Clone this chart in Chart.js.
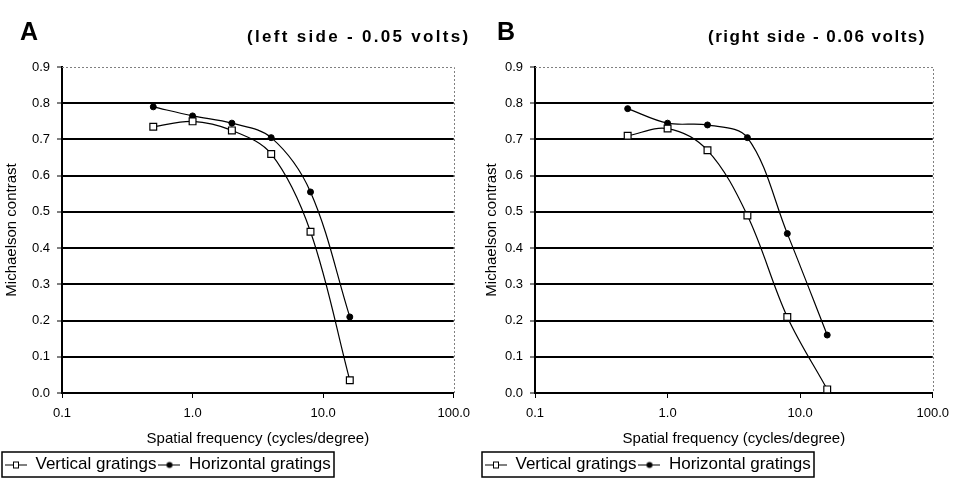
<!DOCTYPE html>
<html><head><meta charset="utf-8">
<script src="https://cdn.jsdelivr.net/npm/chart.js@4.4.0/dist/chart.umd.min.js"></script>
<style>
html,body{margin:0;padding:0;background:#fff;width:957px;height:480px;overflow:hidden;font-family:"Liberation Sans",Arial,sans-serif;color:#000;}
.panel{position:absolute;top:0;height:480px;}
.letter{position:absolute;font-weight:bold;font-size:25px;top:16px;line-height:30px;}
.sub{position:absolute;font-weight:bold;font-size:17px;top:25px;line-height:24px;white-space:nowrap;}
</style></head><body>
<div class="panel" style="left:0;width:478px"><canvas id="cA"></canvas></div>
<div class="panel" style="left:480px;width:477px"><canvas id="cB"></canvas></div>
<div class="letter" style="left:20px">A</div>
<div class="sub" style="left:247px;letter-spacing:2.3px">(left side - 0.05 volts)</div>
<div class="letter" style="left:497px">B</div>
<div class="sub" style="left:708px;letter-spacing:1.5px">(right side - 0.06 volts)</div>
<script>
// ---- data ----
const frequencies = [0.5, 1, 2, 4, 8, 16];
const seriesNames = ['Vertical gratings', 'Horizontal gratings'];
const leftVertical    = [0.735, 0.75, 0.725, 0.66, 0.445, 0.035];
const leftHorizontal  = [0.79, 0.765, 0.745, 0.705, 0.555, 0.21];
const rightVertical   = [0.71, 0.73, 0.67, 0.49, 0.21, 0.01];
const rightHorizontal = [0.785, 0.745, 0.74, 0.705, 0.44, 0.16];
const xTickValues = [0.1, 1, 10, 100];
const xTickLabels = ['0.1', '1.0', '10.0', '100.0'];
const yTickValues = [0, 0.1, 0.2, 0.3, 0.4, 0.5, 0.6, 0.7, 0.8, 0.9];
const yTickLabels = ['0.0', '0.1', '0.2', '0.3', '0.4', '0.5', '0.6', '0.7', '0.8', '0.9'];
const xAxisTitle = 'Spatial frequency (cycles/degree)';
const yAxisTitle = 'Michaelson contrast';

const FONT = '"Liberation Sans", Arial, sans-serif';

function makeIcon(kind) {
  const c = document.createElement('canvas');
  c.width = 22; c.height = 10;
  const g = c.getContext('2d');
  g.strokeStyle = '#000'; g.lineWidth = 1;
  g.beginPath(); g.moveTo(0, 5.5); g.lineTo(22, 5.5); g.stroke();
  if (kind === 'square') {
    g.fillStyle = '#fff'; g.fillRect(8.5, 2.5, 5, 6); g.strokeRect(8.5, 2.5, 5, 6);
  } else {
    g.fillStyle = '#000'; g.beginPath(); g.arc(11, 5.5, 3, 0, Math.PI * 2); g.fill();
  }
  return c;
}
const icons = [makeIcon('square'), makeIcon('circle')];

const framePlugin = {
  id: 'frame',
  afterLayout(chart) {
    const lg = chart.legend;
    if (!lg) return;
    lg.top += 3; lg.bottom += 3;
  },
  beforeDatasetsDraw(chart) {
    const {ctx, chartArea: a} = chart;
    ctx.save();
    ctx.strokeStyle = '#808080'; ctx.lineWidth = 1; ctx.setLineDash([2, 2]);
    ctx.beginPath();
    ctx.moveTo(a.left, Math.round(a.top) + 0.5);
    ctx.lineTo(Math.round(a.right) + 0.5, Math.round(a.top) + 0.5);
    ctx.lineTo(Math.round(a.right) + 0.5, a.bottom);
    ctx.stroke();
    ctx.restore();
  },
  afterDraw(chart) {
    const hb = chart.legend && chart.legend.legendHitBoxes;
    if (!hb || !hb.length) return;
    const l = Math.min(...hb.map(b => b.left));
    const r = Math.max(...hb.map(b => b.left + b.width));
    const t = Math.min(...hb.map(b => b.top));
    const bt = Math.max(...hb.map(b => b.top + b.height));
    const ctx = chart.ctx;
    ctx.save();
    ctx.strokeStyle = '#000'; ctx.lineWidth = 1.5;
    ctx.strokeRect(Math.round(l - 3), Math.round(t - 4), Math.round(r - l + 6), Math.round(bt - t + 8));
    ctx.restore();
  }
};

function buildChart(id, vertical, horizontal, yWidth, rightPad) {
  const mk = (vals) => frequencies.map((f, i) => ({x: f, y: vals[i]}));
  return new Chart(document.getElementById(id), {
    type: 'line',
    data: {
      datasets: [
        { label: seriesNames[0], data: mk(vertical), borderColor: '#000', borderWidth: 1.2,
          backgroundColor: '#fff', pointStyle: 'rect', pointRadius: 4.8, pointBorderWidth: 1.2,
          pointBorderColor: '#000', pointBackgroundColor: '#fff', tension: 0.35, fill: false },
        { label: seriesNames[1], data: mk(horizontal), borderColor: '#000', borderWidth: 1.2,
          backgroundColor: '#000', pointStyle: 'circle', pointRadius: 3, pointBorderWidth: 1,
          pointBorderColor: '#000', pointBackgroundColor: '#000', tension: 0.35, fill: false }
      ]
    },
    options: {
      responsive: true, maintainAspectRatio: false, animation: false,
      layout: { padding: { top: 67, left: 3, right: rightPad, bottom: 0 } },
      plugins: {
        tooltip: { enabled: false },
        legend: {
          position: 'bottom', align: 'start',
          labels: {
            usePointStyle: true, pointStyleWidth: 22, boxHeight: 10, padding: 2,
            color: '#000', font: { family: FONT, size: 17 },
            generateLabels(chart) {
              const items = Chart.defaults.plugins.legend.labels.generateLabels(chart);
              items.forEach(it => { it.pointStyle = icons[it.datasetIndex]; });
              return items;
            }
          }
        }
      },
      scales: {
        x: {
          type: 'logarithmic', min: 0.1, max: 100,
          afterBuildTicks(s) { s.ticks = xTickValues.map(v => ({value: v})); },
          afterFit(s) { s.height = 58; },
          ticks: { callback: (v, i) => xTickLabels[i], color: '#000', font: { family: FONT, size: 13 },
                   padding: 8, maxRotation: 0, autoSkip: false },
          grid: { drawOnChartArea: false, drawTicks: true, tickLength: 5, tickColor: '#000', tickWidth: 1 },
          border: { color: '#000', width: 2 },
          title: { display: true, text: xAxisTitle, color: '#000', font: { family: FONT, size: 15 },
                   padding: { top: 4, bottom: 3 } }
        },
        y: {
          type: 'linear', min: 0, max: 0.9,
          afterBuildTicks(s) { s.ticks = yTickValues.map(v => ({value: v})); },
          afterFit(s) { s.width = yWidth; },
          ticks: { callback: (v, i) => yTickLabels[i], color: '#000', font: { family: FONT, size: 13 }, padding: 7 },
          grid: {
            color: (c) => (c.tick && (c.tick.value === 0 || Math.abs(c.tick.value - 0.9) < 1e-9)) ? 'rgba(0,0,0,0)' : '#000',
            lineWidth: 2, drawTicks: true, tickLength: 5, tickColor: '#000', tickWidth: 1
          },
          border: { color: '#000', width: 2 },
          title: { display: true, text: yAxisTitle, color: '#000', font: { family: FONT, size: 15 },
                   padding: { top: 0, bottom: 2 } }
        }
      }
    },
    plugins: [framePlugin]
  });
}

buildChart('cA', leftVertical, leftHorizontal, 59, 23);
buildChart('cB', rightVertical, rightHorizontal, 52, 22);
</script>
</body></html>
